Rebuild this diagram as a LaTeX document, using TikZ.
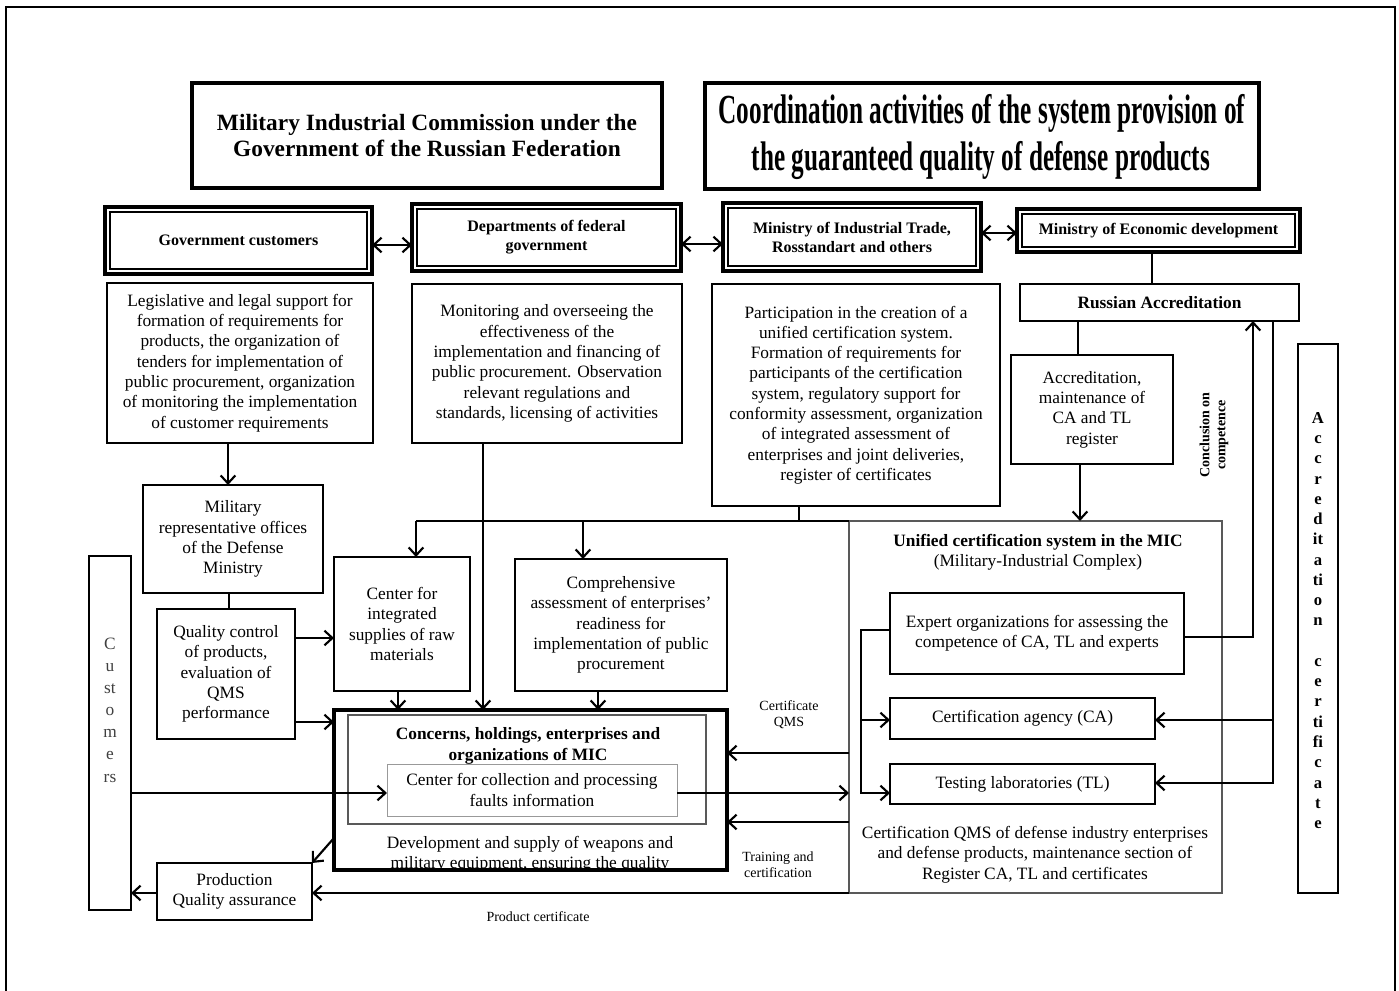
\documentclass[tikz,border=0pt]{standalone}
\usepackage{fontspec}
\setmainfont{Liberation Serif}
\usepackage{graphicx}
\usetikzlibrary{arrows.meta,calc}
\newcommand\bodyfs{\fontsize{13}{15.2}\selectfont}
\newcommand\smallfs{\fontsize{10.5}{12}\selectfont}
\begin{document}
\begin{tikzpicture}[x=0.75pt,y=-0.75pt,
  corners/.style n args={4}{at={({(#1+#3)/2},{(#2+#4)/2})}, anchor=center,
     minimum width={(#3-#1)*0.75pt}, minimum height={(#4-#2)*0.75pt}},
  box/.style={draw, line width=1.5pt, inner sep=0pt, outer sep=0pt, align=center, font=\bodyfs},
  tbox/.style={draw, line width=3.2pt, inner sep=0pt, outer sep=0pt, align=center},
  obox/.style={draw, line width=2.3pt, inner sep=0pt, outer sep=0pt, align=center, font=\bfseries\fontsize{12}{14.2}\selectfont},
  gbox/.style={draw=black!65, line width=0.9pt, inner sep=0pt, outer sep=0pt},
  txt/.style={inner sep=0pt, align=center, font=\bodyfs},
  lbl/.style={inner sep=0pt, align=center, font=\smallfs},
  conn/.style={line width=1.6pt},
  arr/.style={line width=1.6pt, -{Straight Barb[length=6pt,width=11pt]}},
  darr/.style={line width=1.6pt, {Straight Barb[length=6pt,width=11pt]}-{Straight Barb[length=6pt,width=11pt]}},
]
\useasboundingbox (0,0) rectangle (1399,991);
% outer frame
\draw[line width=1.5pt] (6,991) -- (6,7) -- (1395,7) -- (1395,991);

% titles
\node[tbox, corners={192}{83}{662}{188}, font=\bfseries\fontsize{17.5}{19.5}\selectfont] (t1)
  {Military Industrial Commission under the\\Government of the Russian Federation};
\node[tbox, corners={705}{83}{1259}{189}] (t2) {};
\node[inner sep=0pt, font=\bfseries\fontsize{31}{34}\selectfont] (t2a) at (982,113)
  {\resizebox{395pt}{\height}{Coordination activities of the system provision of}};
\node[inner sep=0pt, font=\bfseries\fontsize{31}{34}\selectfont] (t2b) at (981,161)
  {\resizebox{343.5pt}{\height}{the guaranteed quality of defense products}};

% ministry boxes (double border)
\node[obox, corners={105}{207}{372}{274}] (gov) {Government customers};
\node[obox, corners={412}{204}{681}{271}] (dep) {Departments of federal\\government};
\node[obox, corners={723}{203}{981}{271}] (mind) {Ministry of Industrial Trade,\\Rosstandart and others};
\node[obox, corners={1017}{209}{1300}{252}] (econ) {Ministry of Economic development};
\foreach \n in {gov,dep,mind,econ}{
  \draw[line width=0.9pt] ([shift={(5,5)}]\n.north west) rectangle ([shift={(-5,-5)}]\n.south east);
}
\draw[darr] (gov.east |- 0,245) -- (dep.west |- 0,245);
\draw[darr] (dep.east |- 0,244) -- (mind.west |- 0,244);
\draw[darr] (mind.east |- 0,233) -- (econ.west |- 0,233);

% second row
\node[box, corners={107}{283}{373}{443}] (leg)
  {Legislative and legal support for\\formation of requirements for\\products, the organization of\\tenders for implementation of\\public procurement, organization\\of monitoring the implementation\\of customer requirements};
\node[box, corners={412}{284}{682}{443}] (mon)
  {Monitoring and overseeing the\\effectiveness of the\\implementation and financing of\\public procurement. Observation\\relevant regulations and\\standards, licensing of activities};
\node[box, corners={712}{284}{1000}{506}] (part)
  {Participation in the creation of a\\unified certification system.\\Formation of requirements for\\participants of the certification\\system, regulatory support for\\conformity assessment, organization\\of integrated assessment of\\enterprises and joint deliveries,\\register of certificates};
\node[box, corners={1020}{284}{1299}{321}, font=\bfseries\fontsize{13}{15}\selectfont] (ra) {Russian Accreditation};
\node[box, corners={1011}{355}{1173}{464}] (acc) {Accreditation,\\maintenance of\\CA and TL\\register};
\node[rotate=90, inner sep=0pt, align=center, font=\bfseries\fontsize{10.5}{12}\selectfont] (concl) at (1214,435) {Conclusion on\\competence};
\node[box, line width=2.2pt, corners={1298}{344}{1338}{893}] (acert) {};
\node[txt, font=\bfseries\fontsize{12.5}{15.2}\selectfont] (acertt) at (1318,620.5)
  {A\\c\\c\\r\\e\\d\\it\\a\\ti\\o\\n\\\mbox{}\\c\\e\\r\\ti\\fi\\c\\a\\t\\e};

\draw[conn] (econ.south -| 1152,0) -- (ra.north -| 1152,0);
\draw[conn] (ra.south -| 1078,0) -- (acc.north -| 1078,0);

% left column
\node[box, corners={143}{485}{323}{593}] (mil) {Military\\representative offices\\of the Defense\\Ministry};
\node[box, corners={157}{609}{295}{739}] (qc) {Quality control\\of products,\\evaluation of\\QMS\\performance};
\node[box, corners={89}{556}{131}{910}] (cust) {};
\node[txt, text=black!75, font=\fontsize{13}{16.6}\selectfont] (custt) at (110,710) {C\\u\\st\\o\\m\\e\\rs};
\node[box, corners={157}{863}{312}{920}] (pqa) {Production\\Quality assurance};

% middle
\node[box, corners={334}{557}{470}{691}] (cis) {Center for\\integrated\\supplies of raw\\materials};
\node[box, corners={515}{559}{727}{691}] (comp) {Comprehensive\\assessment of enterprises'\\readiness for\\implementation of public\\procurement};
\node[draw, line width=2.6pt, inner sep=0pt, outer sep=0pt, corners={334}{710}{727}{870}] (conc) {};
\node[gbox, corners={348}{715}{706}{824}] (conci) {};
\node[txt, font=\bfseries\fontsize{13}{15.2}\selectfont] (conct) at (528,746) {Concerns, holdings, enterprises and\\organizations of MIC};
\node[draw=black!40, line width=0.7pt, inner sep=0pt, outer sep=0pt, align=center, font=\bodyfs, corners={387}{764}{677}{816}] (ccp) {Center for collection and processing\\faults information};
\node[txt] (dev) at (530,854) {Development and supply of weapons and\\military equipment, ensuring the quality};

% unified certification system
\node[gbox, line width=1pt, corners={849}{521}{1222}{893}] (ucs) {};
\node[txt] (ucst) at (1038,552) {\textbf{Unified certification system in the MIC}\\(Military-Industrial Complex)};
\node[box, corners={890}{593}{1184}{674}] (expo) {Expert organizations for assessing the\\competence of CA, TL and experts};
\node[box, corners={890}{698}{1155}{739}] (ca) {Certification agency (CA)};
\node[box, corners={890}{764}{1155}{804}] (tl) {Testing laboratories (TL)};
\node[txt] (ucsb) at (1035,854.5) {Certification QMS of defense industry enterprises\\and defense products, maintenance section of\\Register CA, TL and certificates};

% labels
\node[lbl] (lcert) at (789,715) {Certificate\\QMS};
\node[lbl] (ltrain) at (778,865) {Training and\\certification};
\node[lbl] (lprod) at (538,917) {Product certificate};

% connectors left/middle
\draw[arr] (leg.south -| 228,0) -- (mil.north -| 228,0);
\draw[conn] (mil.south -| 229,0) -- (qc.north -| 229,0);
\draw[arr] (qc.east |- 0,638) -- (cis.west |- 0,638);
\draw[arr] (qc.east |- 0,722) -- (conc.west |- 0,722);

\coordinate (busL) at (416,521);
\coordinate (busM) at (583,521);
\draw[conn] (part.south -| 799,0) -- (799,521);
\draw[conn] (busL) -- (ucs.north west);
\draw[arr] (busL) -- (cis.north -| busL);
\draw[arr] (busM) -- (comp.north -| busM);
\draw[arr] (mon.south -| 483,0) -- (conc.north -| 483,0);
\draw[arr] (cis.south -| 398,0) -- (conc.north -| 398,0);
\draw[arr] (comp.south -| 598,0) -- (conc.north -| 598,0);

\draw[arr] (cust.east |- 0,793) -- (ccp.west |- 0,793);
\draw[arr] (ccp.east |- 0,793) -- (ucs.west |- 0,793);
\draw[arr] (ucs.west |- 0,753) -- (conc.east |- 0,753);
\draw[arr] (ucs.west |- 0,822) -- (conc.east |- 0,822);
\draw[arr] (ucs.south west) -- (pqa.east |- 0,893);
\draw[arr] (pqa.west |- 0,893) -- (cust.east |- 0,893);
\draw[arr] (conc.west |- 0,838) -- (pqa.north east);

% right side connectors
\draw[arr] (acc.south -| 1080,0) -- (ucs.north -| 1080,0);
\draw[arr] (expo.east |- 0,637) -| (ra.south -| 1253,0);
\draw[arr] (ra.south -| 1273,0) |- (tl.east |- 0,783);
\coordinate (jr) at (1273,720);
\draw[arr] (jr) -- (ca.east |- 0,720);
\draw[arr] (expo.west |- 0,630) -- ++(-29,0) |- (tl.west |- 0,793);
\coordinate (jl) at (861,720);
\draw[arr] (jl) -- (ca.west |- 0,720);
\end{tikzpicture}
\end{document}
